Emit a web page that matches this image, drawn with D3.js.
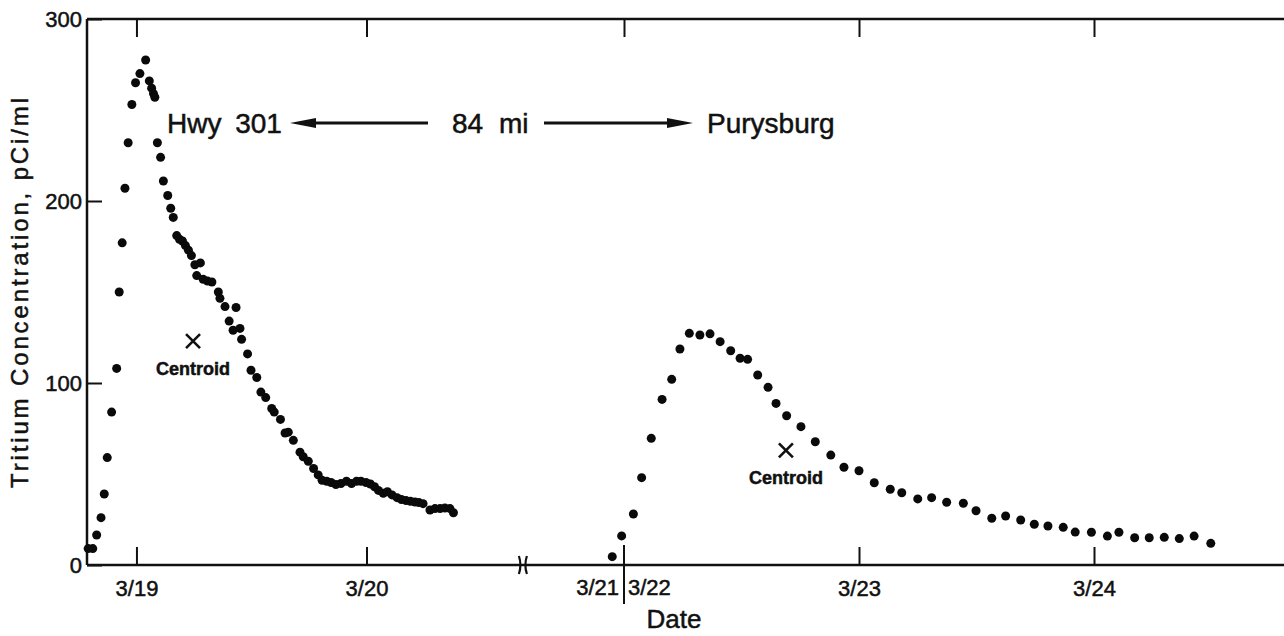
<!DOCTYPE html>
<html>
<head>
<meta charset="utf-8">
<script src="https://cdn.jsdelivr.net/npm/d3@7"></script>
<style>
  body { margin: 0; background: #fff; }
  svg { display: block; font-family: "Liberation Sans", Arial, sans-serif; }
  svg text { stroke: #111; stroke-width: 0.5px; }
</style>
</head>
<body>
<svg id="svg1" width="1284" height="636"></svg>
<script>
// day of March (fractional) and tritium concentration, pCi/ml
var hwyDays = [18.79, 18.81, 18.827, 18.846, 18.860, 18.873, 18.892, 18.914, 18.925, 18.938,
  18.950, 18.964, 18.980, 18.996, 19.015, 19.040, 19.056, 19.066, 19.074, 19.080,
  19.091, 19.105, 19.117, 19.136, 19.149, 19.160, 19.175, 19.187, 19.200, 19.213,
  19.226, 19.239, 19.254, 19.262, 19.278, 19.290, 19.309, 19.328, 19.356, 19.363,
  19.385, 19.403, 19.420, 19.433, 19.450, 19.457, 19.483, 19.498, 19.523, 19.541,
  19.562, 19.588, 19.599, 19.626, 19.646, 19.660, 19.682, 19.711, 19.725, 19.747,
  19.770, 19.790, 19.807, 19.827, 19.846, 19.867, 19.889, 19.913, 19.935, 19.957,
  19.976, 19.998, 20.017, 20.035, 20.052, 20.073, 20.091, 20.111, 20.133, 20.152,
  20.172, 20.191, 20.211, 20.228, 20.246, 20.276, 20.298, 20.320, 20.341, 20.363, 20.378];
var hwyVals = [9, 9, 16.5, 26, 39, 59, 84, 108, 150, 177,
  207, 232, 253, 265, 270, 277.5, 266, 262, 259, 257,
  232, 224, 211, 203, 196, 191, 181, 179, 178, 175.5,
  173, 170, 165, 159, 166, 157, 156, 155.5, 150, 146.5,
  142, 134, 129, 141.5, 130, 124, 116, 107, 103, 95,
  92, 86, 84, 80, 72.5, 73, 68.5, 62, 59.5, 57,
  53, 49.5, 46.5, 46, 45.3, 44.2, 44.8, 46, 44.8, 46,
  46, 45.3, 44.5, 43, 41, 39.4, 40.3, 38.5, 37, 36,
  35.4, 35, 34.6, 34.3, 33.7, 30.2, 31, 31, 31.3, 31, 28.7];

var puryDays = [21.950, 21.990, 22.040, 22.075, 22.116, 22.162, 22.203, 22.238, 22.278, 22.323,
  22.366, 22.409, 22.454, 22.494, 22.526, 22.569, 22.613, 22.647, 22.692, 22.753,
  22.814, 22.880, 22.936, 23.000, 23.065, 23.133, 23.182, 23.250, 23.309, 23.373,
  23.444, 23.498, 23.565, 23.624, 23.688, 23.746, 23.804, 23.869, 23.920, 23.989,
  24.057, 24.106, 24.173, 24.235, 24.299, 24.363, 24.426, 24.497];
var puryVals = [4.6, 16, 28, 48, 69.6, 91, 102, 118.7, 127.3, 126.4,
  127, 122.7, 117.7, 113.6, 113, 104.4, 97.6, 88.8, 82, 76,
  67.7, 60.4, 53.7, 51.8, 45.2, 41.6, 39.7, 36.3, 37, 34.5,
  33.9, 29.8, 25.7, 26.9, 24.7, 22.4, 21.4, 20.7, 18.1, 18,
  15.9, 18, 15, 15, 15.2, 14.5, 15.9, 11.9];

var centroidDays = [19.246, 22.689];
var centroidVals = [123, 63];

var bottomTicks = [19, 20, 23, 24];
var topTicks = [19, 20, 22, 23, 24];
var yTicks = [0, 100, 200, 300];

var width = 1284, height = 636;
var plotLeft = 87, plotTop = 19, plotBottom = 565;

var svg = d3.select('svg');

// broken time axis: 3/21 and 3/22 share one spot
var x = d3.scaleLinear()
    .domain([18.785, 20.7, 21.85, 25])
    .range([plotLeft, 527.5, 588.75, 1329]);

var y = d3.scaleLinear()
    .domain([0, 300])
    .range([plotBottom, plotTop]);

var dayLabel = function(d) { return '3/' + d; };

// bottom axis
svg.append('g')
    .attr('transform', 'translate(0,' + plotBottom + ')')
    .call(d3.axisBottom(x).tickValues(bottomTicks).tickSizeInner(-18).tickSizeOuter(0).tickPadding(15).tickFormat(dayLabel));

// top axis, ticks only
svg.append('g')
    .attr('transform', 'translate(0,' + plotTop + ')')
    .call(d3.axisTop(x).tickValues(topTicks).tickSizeInner(-18).tickSizeOuter(0).tickFormat(''));

svg.append('g')
    .attr('transform', 'translate(' + plotLeft + ',0)')
    .call(d3.axisLeft(y).tickValues(yTicks).tickSizeInner(-15).tickSizeOuter(0).tickPadding(5));

svg.selectAll('.domain').remove();
svg.selectAll('.tick line').attr('stroke', '#111').attr('stroke-width', 2);
svg.selectAll('.tick text')
    .attr('fill', '#111')
    .style('font-size', '22px')
    .style('font-family', '"Liberation Sans", Arial, sans-serif');

// frame lines
svg.append('line').attr('x1', plotLeft).attr('x2', width).attr('y1', plotTop).attr('y2', plotTop)
    .attr('stroke', '#111').attr('stroke-width', 2.5);
svg.append('line').attr('x1', plotLeft).attr('x2', width).attr('y1', plotBottom).attr('y2', plotBottom)
    .attr('stroke', '#111').attr('stroke-width', 2.5);
svg.append('line').attr('x1', plotLeft).attr('x2', plotLeft).attr('y1', plotTop).attr('y2', plotBottom)
    .attr('stroke', '#111').attr('stroke-width', 2.5);

// axis break mark
var bx = x(20.68);
svg.append('path')
    .attr('d', 'M' + (bx - 4) + ',' + (plotBottom - 9) + ' Q' + (bx - 1) + ',' + plotBottom + ' ' + (bx - 4) + ',' + (plotBottom + 9) +
               ' M' + (bx + 4) + ',' + (plotBottom - 9) + ' Q' + (bx + 1) + ',' + plotBottom + ' ' + (bx + 4) + ',' + (plotBottom + 9))
    .attr('fill', 'none').attr('stroke', '#111').attr('stroke-width', 2.2);

// 3/21 | 3/22 divider
var dx = x(22);
svg.append('line').attr('x1', dx).attr('x2', dx).attr('y1', plotBottom - 20).attr('y2', plotBottom + 39)
    .attr('stroke', '#111').attr('stroke-width', 2);
svg.append('text').attr('x', dx - 5).attr('y', 595).attr('text-anchor', 'end')
    .style('font-size', '22px').attr('fill', '#111').text('3/21');
svg.append('text').attr('x', dx + 4).attr('y', 595).attr('text-anchor', 'start')
    .style('font-size', '22px').attr('fill', '#111').text('3/22');

// axis titles
svg.append('text')
    .attr('x', 674).attr('y', 628).attr('text-anchor', 'middle')
    .style('font-size', '26px').attr('fill', '#111')
    .text('Date');

svg.append('text')
    .attr('transform', 'translate(28,293) rotate(-90)')
    .attr('text-anchor', 'middle')
    .attr('textLength', 390).attr('lengthAdjust', 'spacing')
    .style('font-size', '24px').attr('fill', '#111')
    .text('Tritium Concentration, pCi/ml');

// data points
var hwy = hwyDays.map(function(d, i) { return {day: d, val: hwyVals[i]}; });
var pury = puryDays.map(function(d, i) { return {day: d, val: puryVals[i]}; });

svg.append('g').selectAll('circle')
    .data(hwy.concat(pury))
    .enter()
    .append('circle')
    .attr('cx', function(d) { return x(d.day); })
    .attr('cy', function(d) { return y(d.val); })
    .attr('r', 4.5)
    .attr('fill', '#0a0a0a');

// centroids
var cents = centroidDays.map(function(d, i) { return {day: d, val: centroidVals[i]}; });
var cg = svg.append('g').selectAll('g')
    .data(cents)
    .enter()
    .append('g')
    .attr('transform', function(d) { return 'translate(' + x(d.day) + ',' + y(d.val) + ')'; });
cg.append('path')
    .attr('d', 'M-7,-7L7,7M-7,7L7,-7')
    .attr('stroke', '#111').attr('stroke-width', 2.6);
cg.append('text')
    .attr('y', 34).attr('text-anchor', 'middle')
    .style('font-size', '18px').style('font-weight', 'bold').attr('fill', '#111')
    .text('Centroid');

// station annotation with arrows
var ay = 123;
svg.append('text').attr('x', 167).attr('y', 133).style('font-size', '28px').style('word-spacing', '6px')
    .attr('fill', '#111').text('Hwy 301');
svg.append('text').attr('x', 452).attr('y', 133).style('font-size', '28px').style('word-spacing', '8px')
    .attr('fill', '#111').text('84 mi');
svg.append('text').attr('x', 707).attr('y', 133).style('font-size', '28px')
    .attr('fill', '#111').text('Purysburg');

svg.append('line').attr('x1', 310).attr('x2', 428).attr('y1', ay).attr('y2', ay)
    .attr('stroke', '#111').attr('stroke-width', 3);
svg.append('path').attr('d', 'M290,' + ay + 'L316,' + (ay - 5) + 'L316,' + (ay + 5) + 'Z').attr('fill', '#111');

svg.append('line').attr('x1', 544).attr('x2', 672).attr('y1', ay).attr('y2', ay)
    .attr('stroke', '#111').attr('stroke-width', 3);
svg.append('path').attr('d', 'M693,' + ay + 'L667,' + (ay - 5) + 'L667,' + (ay + 5) + 'Z').attr('fill', '#111');
</script>
</body>
</html>
